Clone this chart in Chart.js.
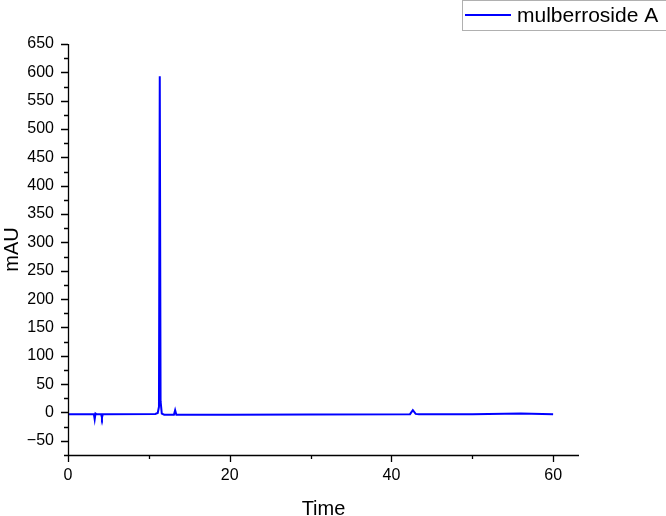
<!DOCTYPE html>
<html>
<head>
<meta charset="utf-8">
<script src="https://cdn.jsdelivr.net/npm/chart.js@4"></script>
<style>
  html, body { margin: 0; padding: 0; background: #fff; }
  #wrap { width: 666px; height: 516px; }
</style>
</head>
<body>
<div id="wrap"><canvas id="chromChart" width="666" height="516"></canvas></div>
<script>
const seriesLabel = 'mulberroside A';
const timeValues = [0, 3.2, 3.3, 3.4, 3.5, 4.1, 4.2, 4.3, 10.8, 11.1, 11.25, 11.35, 11.45, 11.6, 11.9,
  13.1, 13.25, 13.4, 20, 30, 42.3, 42.65, 43.0, 43.4, 50, 56, 60];
const mauValues = [-3, -3, -12, -2, -3, -3, -9, -3, -2.5, -1, 10, 593, 20, -2, -4,
  -4, 4, -4, -4, -3.5, -3, 4, -2.5, -3, -3, -2, -3];

// graduations des axes
const xMajorTicks = [0, 20, 40, 60];
const xMinorTicks = [10, 30, 50];
const yMajorTicks = [650, 600, 550, 500, 450, 400, 350, 300, 250, 200, 150, 100, 50, 0, -50];
const yMinorTicks = [625, 575, 525, 475, 425, 375, 325, 275, 225, 175, 125, 75, 25, -25, -75];

const points = timeValues.map((t, i) => ({ x: t, y: mauValues[i] }));

// Dessine les axes, les graduations et la légende encadrée
const axesPlugin = {
  id: 'axesPlugin',
  afterDraw(chart) {
    const ctx = chart.ctx;
    const area = chart.chartArea;
    const xs = chart.scales.x;
    const ys = chart.scales.y;
    ctx.save();
    ctx.strokeStyle = '#000';
    ctx.lineWidth = 1.3;
    ctx.beginPath();
    ctx.moveTo(area.left - 4, area.bottom + 0.5);
    ctx.lineTo(area.right, area.bottom + 0.5);
    ctx.moveTo(area.left + 0.5, area.top);
    ctx.lineTo(area.left + 0.5, area.bottom);
    xMajorTicks.forEach(v => {
      const px = Math.round(xs.getPixelForValue(v)) + 0.5;
      ctx.moveTo(px, area.bottom);
      ctx.lineTo(px, area.bottom + 7);
    });
    xMinorTicks.forEach(v => {
      const px = Math.round(xs.getPixelForValue(v)) + 0.5;
      ctx.moveTo(px, area.bottom);
      ctx.lineTo(px, area.bottom + 4);
    });
    yMajorTicks.forEach(v => {
      const py = Math.round(ys.getPixelForValue(v)) + 0.5;
      ctx.moveTo(area.left, py);
      ctx.lineTo(area.left - 7, py);
    });
    yMinorTicks.forEach(v => {
      const py = Math.round(ys.getPixelForValue(v)) + 0.5;
      ctx.moveTo(area.left, py);
      ctx.lineTo(area.left - 4, py);
    });
    ctx.stroke();

    // légende
    ctx.strokeStyle = '#b0b0b0';
    ctx.lineWidth = 1;
    ctx.strokeRect(462.5, 0.5, 210, 30);
    ctx.strokeStyle = '#0000ff';
    ctx.lineWidth = 2;
    ctx.beginPath();
    ctx.moveTo(465, 15);
    ctx.lineTo(511, 15);
    ctx.stroke();
    ctx.fillStyle = '#000';
    ctx.font = '21px "Liberation Sans", Arial, sans-serif';
    ctx.textBaseline = 'middle';
    ctx.fillText(seriesLabel, 517, 16);
    ctx.restore();
  }
};

const ctx = document.getElementById('chromChart').getContext('2d');
new Chart(ctx, {
  type: 'line',
  data: {
    datasets: [{
      label: seriesLabel,
      data: points,
      borderColor: '#0000ff',
      borderWidth: 2,
      pointRadius: 0,
      tension: 0,
      fill: false
    }]
  },
  options: {
    responsive: false,
    animation: false,
    layout: { padding: { left: 0, right: 87, top: 44, bottom: 0 } },
    plugins: {
      legend: { display: false },
      tooltip: { enabled: false }
    },
    scales: {
      x: {
        type: 'linear',
        min: 0,
        max: 63.2,
        grid: { display: false, drawTicks: false },
        border: { display: false },
        afterFit: s => { s.height = 61; },
        ticks: {
          stepSize: 20,
          includeBounds: false,
          padding: 11,
          color: '#000',
          font: { family: '"Liberation Sans", Arial, sans-serif', size: 16 },
          maxRotation: 0
        },
        title: {
          display: true,
          text: 'Time',
          color: '#000',
          font: { family: '"Liberation Sans", Arial, sans-serif', size: 20 },
          padding: { top: 0, bottom: -5 }
        }
      },
      y: {
        type: 'linear',
        min: -75,
        max: 650,
        grid: { display: false, drawTicks: false },
        border: { display: false },
        afterFit: s => { s.width = 68; },
        ticks: {
          stepSize: 50,
          includeBounds: false,
          padding: 14,
          color: '#000',
          font: { family: '"Liberation Sans", Arial, sans-serif', size: 16 },
          callback: v => String(v).replace('-', '\u2212')
        },
        title: {
          display: true,
          text: 'mAU',
          color: '#000',
          font: { family: '"Liberation Sans", Arial, sans-serif', size: 20 },
          padding: { top: 0, bottom: 0 }
        }
      }
    }
  },
  plugins: [axesPlugin]
});
</script>
</body>
</html>
